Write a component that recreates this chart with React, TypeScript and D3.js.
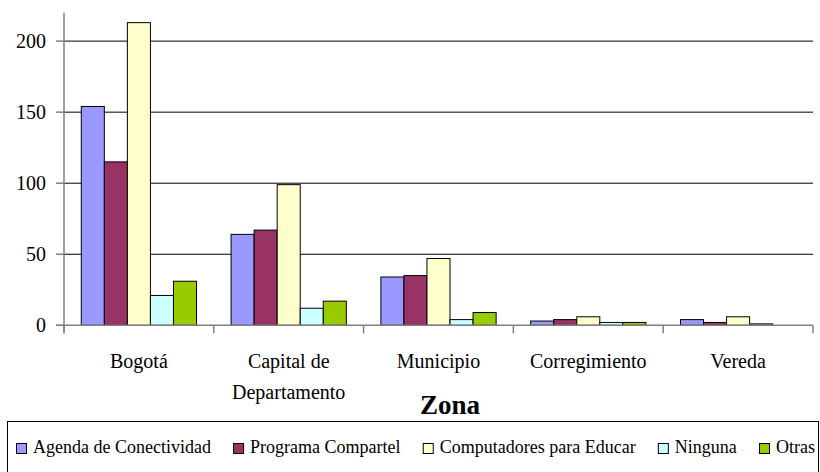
import React, { useLayoutEffect, useRef, useState } from "react";
import * as d3 from "d3";

const categories = ["Bogotá", "Capital de Departamento", "Municipio", "Corregimiento", "Vereda"];
const categoryLines = [["Bogotá"], ["Capital de", "Departamento"], ["Municipio"], ["Corregimiento"], ["Vereda"]];
const seriesNames = ["Agenda de Conectividad", "Programa Compartel", "Computadores para Educar", "Ninguna", "Otras"];
const seriesColors = ["#9999FF", "#993366", "#FFFFCC", "#CCFFFF", "#99CC00"];
const agenda = [154, 64, 34, 3, 4];
const compartel = [115, 67, 35, 4, 2];
const computadores = [213, 99, 47, 6, 6];
const ninguna = [21, 12, 4, 2, 1];
const otras = [31, 17, 9, 2, 0];
const seriesValues = [agenda, compartel, computadores, ninguna, otras];
const yTicks = [0, 50, 100, 150, 200];
const axisTitle = "Zona";

const W = 820;
const H = 472;
const FONT = "Liberation Serif";

export default function App() {
  const left = 64, right = 813, top = 12.7, bottom = 325.3;
  const x0 = d3.scaleBand().domain(categories).range([left, right]).paddingInner(0).paddingOuter(0);
  const x1 = d3.scaleBand().domain(seriesNames).range([0, x0.bandwidth()]).paddingInner(0).paddingOuter(0.75);
  const y = d3.scaleLinear().domain([0, 220]).range([bottom, top]);

  const legendFontSize = 18;
  const legendStart = 16;
  const legendEnd = 815;
  const textRefs = useRef<(SVGTextElement | null)[]>([]);
  const [legendX, setLegendX] = useState<number[]>(seriesNames.map((_, i) => 16 + i * 160));

  useLayoutEffect(() => {
    const widths = seriesNames.map((_, i) => {
      const el = textRefs.current[i];
      return el ? el.getComputedTextLength() : 120;
    });
    const used = d3.sum(widths) + 17 * seriesNames.length;
    const gap = Math.max(10, Math.min(26, (legendEnd - legendStart - used) / (seriesNames.length - 1)));
    let x = legendStart;
    const xs: number[] = [];
    widths.forEach((w) => {
      xs.push(x);
      x += 17 + w + gap;
    });
    setLegendX(xs);
  }, []);

  const boundaries = [...categories.map((c) => x0(c) as number), right];

  return (
    <svg width={W} height={H} style={{ position: "absolute", left: 0, top: 0, background: "#fff" }} fontFamily={FONT}>
      <rect x={0} y={0} width={W} height={H} fill="#fff" />
      {yTicks.filter((t) => t > 0).map((t) => (
        <line key={"g" + t} x1={left} x2={right} y1={y(t)} y2={y(t)} stroke="#000" strokeWidth={1} />
      ))}
      {seriesNames.map((s, si) =>
        categories.map((c, ci) => {
          const v = seriesValues[si][ci];
          if (v <= 0) return null;
          return (
            <rect
              key={s + c}
              x={(x0(c) as number) + (x1(s) as number)}
              y={y(v)}
              width={x1.bandwidth()}
              height={y(0) - y(v)}
              fill={seriesColors[si]}
              stroke="#000"
              strokeWidth={1}
            />
          );
        })
      )}
      <line x1={left} x2={left} y1={top} y2={bottom + 8} stroke="#808080" strokeWidth={1.5} />
      <line x1={left - 8} x2={right} y1={bottom} y2={bottom} stroke="#808080" strokeWidth={1.5} />
      {yTicks.map((t) => (
        <g key={"t" + t}>
          <line x1={left - 8} x2={left} y1={y(t)} y2={y(t)} stroke="#808080" strokeWidth={1.5} />
          <text x={46} y={y(t)} dy="0.35em" textAnchor="end" fontSize={20} fill="#000" fontFamily={FONT}>
            {t}
          </text>
        </g>
      ))}
      {boundaries.map((b, i) => (
        <line key={"b" + i} x1={b} x2={b} y1={bottom} y2={bottom + 8} stroke="#808080" strokeWidth={1.5} />
      ))}
      {categories.map((c, ci) => (
        <text key={"c" + c} textAnchor="middle" fontSize={20} fill="#000" fontFamily={FONT}>
          {categoryLines[ci].map((line, li) => (
            <tspan key={li} x={(x0(c) as number) + x0.bandwidth() / 2} y={368 + li * 31}>
              {line}
            </tspan>
          ))}
        </text>
      ))}
      <text x={450} y={414} textAnchor="middle" fontSize={27} fontWeight="bold" fill="#000" fontFamily={FONT}>
        {axisTitle}
      </text>
      <rect x={7.5} y={421.5} width={811} height={60} fill="none" stroke="#000" strokeWidth={1} />
      {seriesNames.map((name, i) => (
        <g key={name}>
          <rect x={legendX[i] + 0.5} y={443.5} width={10} height={10} fill={seriesColors[i]} stroke="#000" strokeWidth={1} />
          <text
            ref={(el) => { textRefs.current[i] = el; }}
            x={legendX[i] + 17}
            y={453}
            fontSize={legendFontSize}
            fill="#000"
            fontFamily={FONT}
          >
            {name}
          </text>
        </g>
      ))}
    </svg>
  );
}
